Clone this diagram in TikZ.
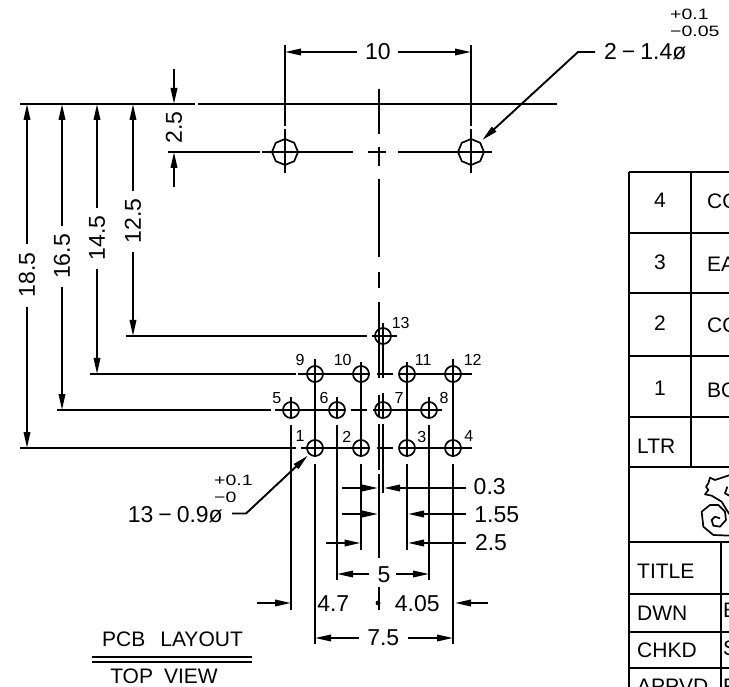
\documentclass[tikz,border=0pt]{standalone}
\usepackage{fontspec}
\setmainfont{Liberation Sans}
\newfontfamily\tolf[FakeStretch=1.3]{Liberation Sans}
\usetikzlibrary{arrows.meta}
\tikzset{
  ln/.style={line width=1.9pt,line cap=butt,black},
  arr/.style={ln,-{Stealth[length=16pt,width=6.5pt,inset=0pt]}},
  tbig/.style={inner sep=0pt,font=\fontsize{23}{23}\selectfont},
  tsm/.style={inner sep=0pt,font=\fontsize{16}{16}\selectfont},
  ttol/.style={inner sep=0pt,font=\tolf\fontsize{15}{15}\selectfont},
  tcap/.style={inner sep=0pt,font=\fontsize{21}{21}\selectfont},
  ttab/.style={inner sep=0pt,font=\fontsize{21}{21}\selectfont},
  hole/.style={line width=1.7pt,black}
}
\newcommand{\octa}[2]{\draw[hole] (#1,#2)+(90:13) -- +(135:13) -- +(180:13) -- +(225:13) -- +(270:13) -- +(315:13) -- +(0:13) -- +(45:13) -- cycle;}
\begin{document}
\begin{tikzpicture}[x=1pt,y=-1pt]
\useasboundingbox (0,0) rectangle (729,687);
\clip (0,0) rectangle (729,687);
% top reference line
\draw[ln] (20,104)--(195,104) (198,104)--(557,104);
% big holes
\octa{285}{152}\octa{471}{152}
\draw[ln] (285,45)--(285,126) (285,129)--(285,173);
\draw[ln] (471,45)--(471,126) (471,129)--(471,173);
\draw[ln] (168,152)--(259.5,152) (262,152)--(353,152) (368,152)--(386,152) (398,152)--(492,152);
% dim 10
\draw[arr] (357,52)--(285,52);
\draw[arr] (398,52)--(471,52);
\node[tbig] (d10) at (378,52) {10};
% leader 2-1.4
\draw[arr] (595,52)--(578,52)--(482.3,140);
\node[tbig,anchor=west] (t14) at (604,52) {2\hspace{5pt}−\hspace{5pt}1.4ø};
\node[ttol,anchor=west] (t14a) at (670,14) {+0.1};
\node[ttol,anchor=west] (t14b) at (670,31) {−0.05};
% dim 2.5 vertical
\draw[arr] (174,69)--(174,104);
\draw[arr] (174,187)--(174,152);
\node[tbig,rotate=90] (v25) at (174,127.5) {2.5};
% centre line x=379
\draw[ln] (379,89)--(379,134) (379,147)--(379,166) (379,179)--(379,257) (379,272)--(379,288) (379,302)--(379,378) (379,395)--(379,417) (379,424)--(379,470) (379,474)--(379,558) (379,587)--(379,610);
\fill (378,603) circle (2.4);
% second line x=383
\draw[ln] (383,323)--(383,378) (383,393)--(383,417) (383,424)--(383,493);
% left dimensions
\draw[arr] (27,244)--(27,104);
\draw[arr] (27,307)--(27,448);
\node[tbig,rotate=90] (l185) at (27,275) {18.5};
\draw[arr] (62,226)--(62,104);
\draw[arr] (62,287)--(62,410);
\node[tbig,rotate=90] (l165) at (62,256.5) {16.5};
\draw[arr] (97,208)--(97,104);
\draw[arr] (97,269)--(97,374);
\node[tbig,rotate=90] (l145) at (97,238) {14.5};
\draw[arr] (133,191)--(133,104);
\draw[arr] (133,252)--(133,336);
\node[tbig,rotate=90] (l125) at (133,221) {12.5};
% rows
\draw[ln] (126,336)--(367,336) (372,336)--(397,336);
\draw[ln] (90,374)--(295.5,374) (298,374)--(370,374) (377,374)--(393,374) (400,374)--(472,374);
\draw[ln] (56.5,410)--(271,410) (275,410)--(345,410) (351,410)--(367,410) (373,410)--(442,410);
\draw[ln] (20,448)--(295.5,448) (301,448)--(370,448) (377,448)--(393,448) (399,448)--(472,448);
% columns
\draw[ln] (291,397)--(291,418) (291,425)--(291,610);
\draw[ln] (315,359)--(315,457) (315,464)--(315,644);
\draw[ln] (337,397)--(337,418) (337,425)--(337,580);
\draw[ln] (361,362)--(361,457) (361,464)--(361,550);
\draw[ln] (407,362)--(407,457) (407,464)--(407,550);
\draw[ln] (429,397)--(429,418) (429,425)--(429,580);
\draw[ln] (453,359)--(453,457) (453,464)--(453,644);
% small holes
\foreach \hx/\hy in {383/336,315/374,361/374,407/374,453/374,291/410,337/410,383/410,429/410,315/448,361/448,407/448,453/448}
  {\draw[hole] (\hx,\hy) circle (8);}
% hole numbers
\node[tsm] (n13) at (400.7,323.3) {13};
\node[tsm] (n9) at (300,360) {9};
\node[tsm] (n10) at (342.7,360) {10};
\node[tsm] (n11) at (423.3,360) {11};
\node[tsm] (n12) at (472.7,360) {12};
\node[tsm] (n5) at (276.7,398.3) {5};
\node[tsm] (n6) at (324,398.3) {6};
\node[tsm] (n7) at (399,397.7) {7};
\node[tsm] (n8) at (444,398) {8};
\node[tsm] (n1) at (300,436) {1};
\node[tsm] (n2) at (346.7,437) {2};
\node[tsm] (n3) at (421.7,436.7) {3};
\node[tsm] (n4) at (468.7,436) {4};
% lower dimensions
\draw[arr] (342,488)--(378,488);
\draw[arr] (466,488)--(384,488);
\node[tbig] (d03) at (489.7,487) {0.3};
\draw[arr] (342,514)--(378,514);
\draw[arr] (466,514)--(408,514);
\node[tbig] (d155) at (496.7,515) {1.55};
\draw[arr] (326,543)--(360.5,543);
\draw[arr] (466,543)--(408,543);
\node[tbig] (d25) at (491,543) {2.5};
\draw[arr] (369,574)--(337,574);
\draw[arr] (396,574)--(429,574);
\node[tbig] (d5) at (384,575) {5};
\draw[arr] (257,603)--(291,603);
\draw[arr] (488,603)--(455,603);
\node[tbig] (d47) at (333.3,604) {4.7};
\node[tbig] (d405) at (417.3,604) {4.05};
\draw[arr] (359,638)--(315,638);
\draw[arr] (408,638)--(453,638);
\node[tbig] (d75) at (383.3,638) {7.5};
% leader 13-0.9
\draw[arr] (232,513.5)--(246,513.5)--(307.7,455.7);
\node[tbig,anchor=east] (t09) at (223,515) {13\hspace{5pt}−\hspace{5pt}0.9ø};
\node[ttol,anchor=west] (t09a) at (214,480) {+0.1};
\node[ttol,anchor=west] (t09b) at (214,497.7) {−0};
% caption
\node[tcap] (pcb) at (172.5,639) {PCB\hspace{15pt}LAYOUT};
\draw[ln] (92,657)--(252,657) (92,662)--(252,662);
\node[tcap] (top) at (164,676) {TOP\hspace{11pt}VIEW};
% table
\draw[ln] (629,172)--(729,172) (629,172)--(629,687);
\draw[ln] (691,172)--(691,467);
\foreach \ry in {233,293,356,417,467,542,594,632,668}
  {\draw[ln] (629,\ry)--(729,\ry);}
\draw[ln] (721,542)--(721,687);
\node[ttab] (r4) at (660,200) {4};
\node[ttab] (r3) at (660,262) {3};
\node[ttab] (r2) at (660,323) {2};
\node[ttab] (r1) at (660,388) {1};
\node[ttab,anchor=west] (ltr) at (637,446) {LTR};
\node[ttab,anchor=west] (c4) at (707,201) {CO};
\node[ttab,anchor=west] (c3) at (707,264) {EA};
\node[ttab,anchor=west] (c2) at (707,325) {CO};
\node[ttab,anchor=west] (c1) at (707,390) {BO};
\node[ttab,anchor=west] (ttl) at (637,571) {TITLE};
\node[ttab,anchor=west] (dwn) at (637,613) {DWN};
\node[ttab,anchor=west] (chk) at (637,650) {CHKD};
\node[ttab,anchor=west] (apv) at (637,686) {APPVD};
\node[ttab,anchor=west] (e1) at (723,610) {E};
\node[ttab,anchor=west] (s1) at (723,648) {S};
\node[ttab,anchor=west] (r9) at (723,686) {R};
% seahorse
\begin{scope}[shift={(690,465)},x=0.3333pt,y=-0.3333pt,line width=1.7pt,line join=round]
\draw (120,30)--(75,45)--(60,38)--(55,55)--(48,65)--(55,75)--(45,88)--(65,92)--(95,110)--(110,135)--(120,150);
\draw (120,212)--(70,210)--(40,185)--(35,140)--(60,120)--(85,120)--(105,140)--(108,165)--(90,185)--(70,182)--(65,165)--(75,155)--(90,160);
\draw (112,65)--(105,85)--(118,92);
\end{scope}
\end{tikzpicture}
\end{document}
